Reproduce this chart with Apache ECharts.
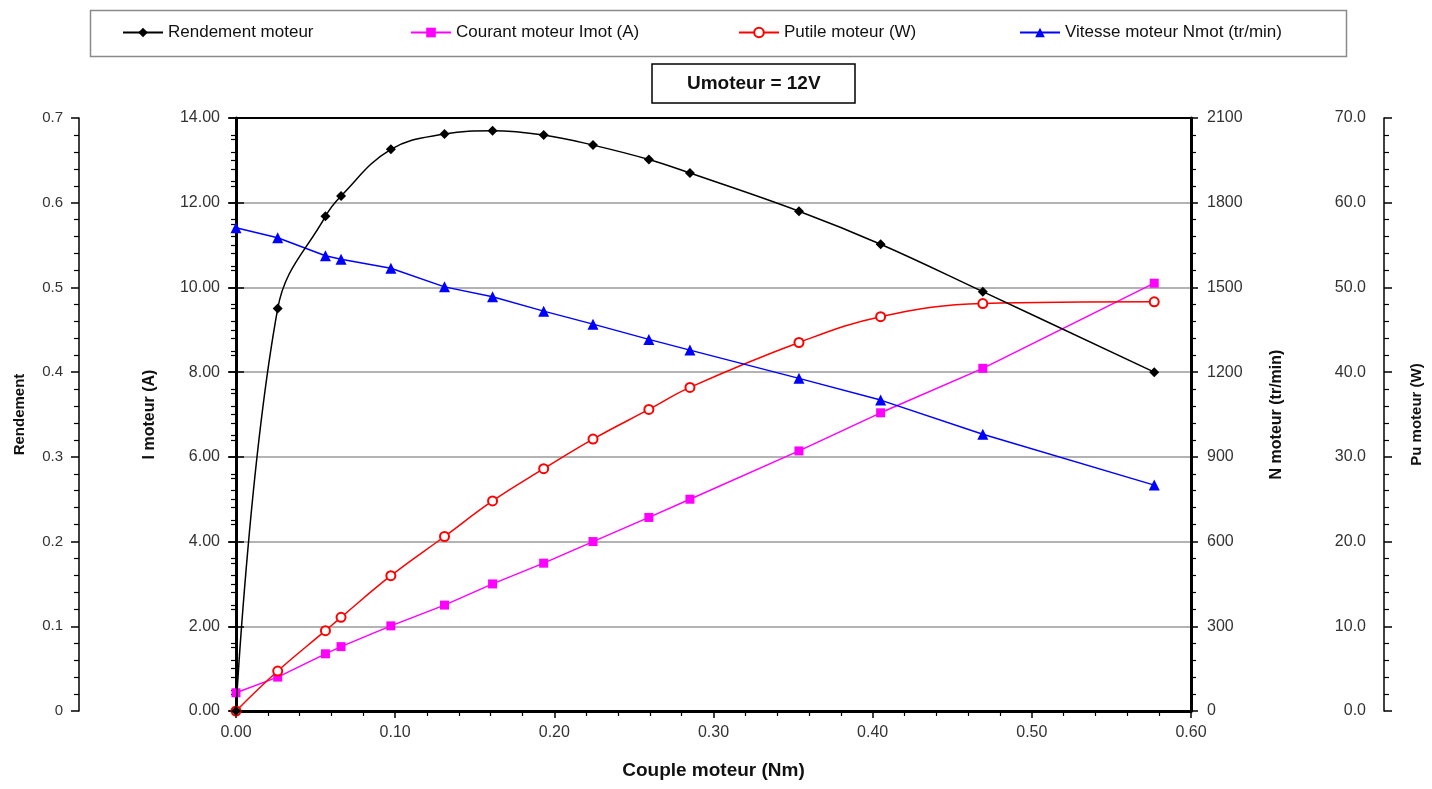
<!DOCTYPE html>
<html>
<head>
<meta charset="utf-8">
<script src="https://cdn.jsdelivr.net/npm/echarts@6/dist/echarts.min.js"></script>
<style>html,body{margin:0;padding:0;background:#fff}#c{width:1432px;height:789px}</style>
</head>
<body>
<div id="c"></div>
<script>
// Data
const couple    = [0, 0.0262, 0.0562, 0.0660, 0.0973, 0.1310, 0.1612, 0.1933, 0.2243, 0.2594, 0.2852, 0.3537, 0.4050, 0.4692, 0.5769];
const rendement = [0, 0.475, 0.584, 0.608, 0.663, 0.681, 0.685, 0.680, 0.668, 0.651, 0.635, 0.590, 0.551, 0.495, 0.400];
const courant   = [0.43, 0.80, 1.35, 1.52, 2.01, 2.50, 3.00, 3.49, 4.00, 4.57, 5.00, 6.14, 7.04, 8.09, 10.10];
const putile    = [0, 4.72, 9.48, 11.06, 15.97, 20.6, 24.8, 28.6, 32.1, 35.6, 38.2, 43.5, 46.55, 48.1, 48.3];
const vitesse   = [1711, 1676, 1612, 1600, 1568, 1502, 1467, 1416, 1370, 1316, 1278, 1178, 1101, 980, 800];
const seriesNames = ['Rendement moteur', 'Courant moteur Imot (A)', 'Putile moteur (W)', 'Vitesse moteur Nmot (tr/min)'];
const titleText = 'Umoteur = 12V';

const FONT = 'Arial, "Liberation Sans", sans-serif';
const pair = arr => arr.map((v, i) => [couple[i], v]);
const chart = echarts.init(document.getElementById('c'));

const labelStyle = {fontFamily: FONT, fontSize: 16, color: '#333'};
const nameStyle = {fontFamily: FONT, fontSize: 16, fontWeight: 'bold', color: '#111'};

function legendAt(name, left) {
  return {
    data: [name], left: left, top: 19, itemWidth: 40, itemHeight: 12, itemGap: 4,
    textStyle: {fontFamily: FONT, fontSize: 17, color: '#111'}, selectedMode: false
  };
}

chart.setOption({
  animation: false,
  backgroundColor: '#fff',
  title: {
    text: titleText, left: 652, top: 64, padding: [10, 35],
    borderColor: '#000', borderWidth: 1.5,
    textStyle: {fontFamily: FONT, fontSize: 19, fontWeight: 'bold', color: '#111'}
  },
  legend: [
    legendAt(seriesNames[0], 117),
    legendAt(seriesNames[1], 405),
    legendAt(seriesNames[2], 733),
    legendAt(seriesNames[3], 1014)
  ],
  graphic: [{
    type: 'rect', left: 88, top: 8, shape: {width: 1256, height: 46},
    style: {fill: 'none', stroke: '#8a8a8a', lineWidth: 1.5}, z: -1
  }],
  grid: {left: 236, right: 240, top: 118, bottom: 78},
  xAxis: [{
    type: 'value', min: 0, max: 0.6, interval: 0.1, position: 'bottom',
    axisLine: {show: true, onZero: false, lineStyle: {color: '#000', width: 3}},
    axisTick: {show: true, length: 7, lineStyle: {color: '#000', width: 1.5}},
    minorTick: {show: true, splitNumber: 5, length: 5, lineStyle: {color: '#000', width: 1.2}},
    splitLine: {show: false},
    axisLabel: Object.assign({margin: 14, formatter: v => v.toFixed(2)}, labelStyle),
    name: 'Couple moteur (Nm)', nameLocation: 'middle', nameGap: 50,
    nameTextStyle: {fontFamily: FONT, fontSize: 19, fontWeight: 'bold', color: '#111'}
  }, {
    type: 'value', min: 0, max: 0.6, position: 'top',
    axisLine: {show: true, onZero: false, lineStyle: {color: '#000', width: 2}},
    axisTick: {show: false}, axisLabel: {show: false}, splitLine: {show: false}
  }],
  yAxis: [
    { // 0: I moteur
      type: 'value', min: 0, max: 14, interval: 2, position: 'left',
      axisLine: {show: true, onZero: false, lineStyle: {color: '#000', width: 3}},
      axisTick: {show: true, length: 7, lineStyle: {color: '#000', width: 1.5}},
      minorTick: {show: true, splitNumber: 4, length: 5, lineStyle: {color: '#000', width: 1.2}},
      splitLine: {show: true, lineStyle: {color: '#9a9a9a', width: 1.5}},
      axisLabel: Object.assign({margin: 16, formatter: v => v.toFixed(2)}, labelStyle),
      name: 'I moteur (A)', nameLocation: 'middle', nameGap: 78, nameRotate: 90,
      nameTextStyle: nameStyle
    },
    { // 1: N moteur
      type: 'value', min: 0, max: 2100, interval: 300, position: 'right',
      axisLine: {show: true, onZero: false, lineStyle: {color: '#000', width: 3}},
      axisTick: {show: true, length: 7, lineStyle: {color: '#000', width: 1.5}},
      minorTick: {show: true, splitNumber: 5, length: 5, lineStyle: {color: '#000', width: 1.2}},
      splitLine: {show: false},
      axisLabel: Object.assign({margin: 16, formatter: v => String(v)}, labelStyle),
      name: 'N moteur (tr/min)', nameLocation: 'middle', nameGap: 78, nameRotate: 90,
      nameTextStyle: nameStyle
    },
    { // 2: Rendement
      type: 'value', min: 0, max: 0.7, interval: 0.1, position: 'left', offset: 157,
      axisLine: {show: true, onZero: false, lineStyle: {color: '#000', width: 1.5}},
      axisTick: {show: true, length: 8, lineStyle: {color: '#000', width: 1.5}},
      minorTick: {show: true, splitNumber: 5, length: 5, lineStyle: {color: '#000', width: 1.2}},
      splitLine: {show: false},
      axisLabel: Object.assign({margin: 16, formatter: v => v === 0 ? '0' : v.toFixed(1)}, labelStyle, {fontSize: 15}),
      name: 'Rendement', nameLocation: 'middle', nameGap: 52, nameRotate: 90,
      nameTextStyle: Object.assign({}, nameStyle, {fontSize: 15})
    },
    { // 3: Rendement cross ticks
      type: 'value', min: 0, max: 0.7, interval: 0.1, position: 'left', offset: 157,
      axisLine: {show: false},
      axisTick: {show: true, inside: true, length: 8, lineStyle: {color: '#000', width: 1.5}},
      axisLabel: {show: false}, splitLine: {show: false}
    },
    { // 4: Pu moteur
      type: 'value', min: 0, max: 70, interval: 10, position: 'right', offset: 193,
      axisLine: {show: true, onZero: false, lineStyle: {color: '#000', width: 1.5}},
      axisTick: {show: true, length: 8, lineStyle: {color: '#000', width: 1.5}},
      minorTick: {show: true, splitNumber: 5, length: 5, lineStyle: {color: '#000', width: 1.2}},
      splitLine: {show: false},
      axisLabel: Object.assign({margin: 18, inside: true, formatter: v => v.toFixed(1)}, labelStyle),
      name: 'Pu moteur (W)', nameLocation: 'middle', nameGap: 25, nameRotate: 90,
      nameTextStyle: Object.assign({}, nameStyle, {fontSize: 15})
    },
    { // 5: Pu cross ticks
      type: 'value', min: 0, max: 70, interval: 10, position: 'right', offset: 193,
      axisLine: {show: false},
      axisTick: {show: true, inside: true, length: 8, lineStyle: {color: '#000', width: 1.5}},
      minorTick: {show: true, splitNumber: 5, length: 5, lineStyle: {color: '#000', width: 1.2}},
      axisLabel: {show: false}, splitLine: {show: false}
    }
  ],
  series: [
    {
      name: seriesNames[0], type: 'line', yAxisIndex: 2, data: pair(rendement),
      smooth: 0.4, symbol: 'diamond', symbolSize: 10,
      itemStyle: {color: '#000'}, lineStyle: {color: '#000', width: 1.5}, z: 5
    },
    {
      name: seriesNames[1], type: 'line', yAxisIndex: 0, data: pair(courant),
      symbol: 'rect', symbolSize: 9,
      itemStyle: {color: '#ff00ff'}, lineStyle: {color: '#ff00ff', width: 1.5}, z: 4
    },
    {
      name: seriesNames[2], type: 'line', yAxisIndex: 4, data: pair(putile),
      smooth: 0.4, symbol: 'emptyCircle', symbolSize: 9,
      itemStyle: {color: '#ff0000', borderColor: '#ff0000', borderWidth: 1.5}, lineStyle: {color: '#ff0000', width: 1.5}, z: 4
    },
    {
      name: seriesNames[3], type: 'line', yAxisIndex: 1, data: pair(vitesse),
      symbol: 'triangle', symbolSize: 11,
      itemStyle: {color: '#0000ff'}, lineStyle: {color: '#0000ff', width: 1.5}, z: 4
    }
  ]
});
</script>
</body>
</html>
